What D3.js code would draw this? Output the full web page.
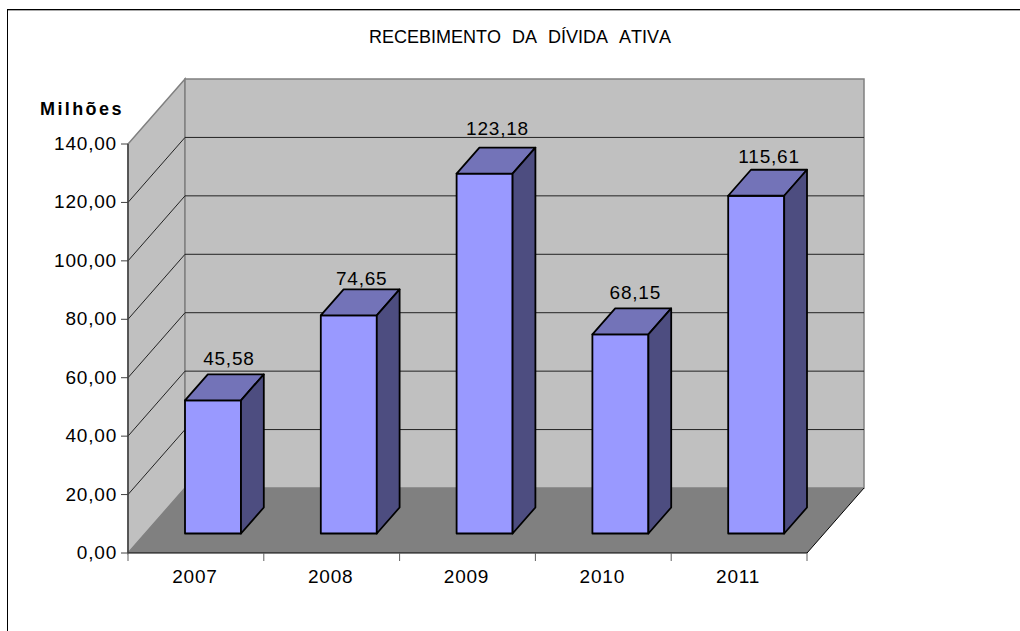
<!DOCTYPE html>
<html>
<head>
<meta charset="utf-8">
<script src="https://cdn.jsdelivr.net/npm/d3@7"></script>
<style>
html, body { margin: 0; padding: 0; background: #fff; }
svg { display: block; }
text { font-family: "Liberation Sans", Arial, sans-serif; fill: #000; }
.num { font-size: 19px; letter-spacing: 0.8px; }
</style>
</head>
<body>
<div id="chart"></div>
<script>
const years = ["2007", "2008", "2009", "2010", "2011"];
const receipts = [45.58, 74.65, 123.18, 68.15, 115.61];
const yTicks = [0, 20, 40, 60, 80, 100, 120, 140];
const chartTitle = "RECEBIMENTO DA DÍVIDA ATIVA";
const unitLabel = "Milhões";

const width = 1020, height = 631;
const fmt = v => v.toFixed(2).replace(".", ",");

const svg = d3.select("#chart").append("svg")
    .attr("width", width)
    .attr("height", height);

// frame runs off the right and bottom of the picture
svg.append("rect")
    .attr("x", 7.5).attr("y", 9.5)
    .attr("width", width + 10).attr("height", height + 10)
    .attr("fill", "#fff").attr("stroke", "#000");
svg.append("line")
    .attr("x1", 8).attr("x2", width)
    .attr("y1", 10.5).attr("y2", 10.5)
    .attr("stroke", "#aaa");

const x = d3.scaleBand().domain(years).range([128, 807]);
const y = d3.scaleLinear().domain([0, 140]).range([553, 144]);
// depth goes from the front plane (0) to the back wall (1)
const depthX = d3.scaleLinear().domain([0, 1]).range([0, 57]);
const depthY = d3.scaleLinear().domain([0, 1]).range([0, -65]);

const px = (xv, d) => xv + depthX(d);
const py = (v, d) => y(v) + depthY(d);
const poly = pts => pts.map(p => p.join(",")).join(" ");

const x0 = x.range()[0], x1 = x.range()[1];

// walls
svg.append("polygon")
    .attr("points", poly([[px(x0, 0), py(0, 0)], [px(x0, 1), py(0, 1)], [px(x0, 1), py(140, 1)], [px(x0, 0), py(140, 0)]]))
    .attr("fill", "#c0c0c0").attr("stroke", "#808080").attr("stroke-width", 1.5);
svg.append("polygon")
    .attr("points", poly([[px(x0, 1), py(0, 1)], [px(x1, 1), py(0, 1)], [px(x1, 1), py(140, 1)], [px(x0, 1), py(140, 1)]]))
    .attr("fill", "#c0c0c0").attr("stroke", "#808080").attr("stroke-width", 1.5);
svg.append("polygon")
    .attr("points", poly([[px(x0, 0), py(0, 0)], [px(x1, 0), py(0, 0)], [px(x1, 1), py(0, 1)], [px(x0, 1), py(0, 1)]]))
    .attr("fill", "#808080");

// gridlines on side and back wall
const gridVals = yTicks.slice(1, -1);
svg.append("g").selectAll("polyline")
    .data(gridVals)
    .enter().append("polyline")
    .attr("fill", "none")
    .attr("stroke", "#222")
    .attr("stroke-width", 1)
    .attr("points", d => poly([[px(x0, 0), py(d, 0)], [px(x0, 1), py(d, 1)], [px(x1, 1), py(d, 1)]]));

// floor front and right edges
svg.append("polyline")
    .attr("fill", "none").attr("stroke", "#000")
    .attr("points", poly([[px(x1, 1), py(0, 1)], [px(x1, 0), py(0, 0)], [px(x0, 0), py(0, 0)]]));

// y axis
svg.append("line")
    .attr("x1", x0).attr("x2", x0)
    .attr("y1", y(0)).attr("y2", y(140))
    .attr("stroke", "#404040").attr("stroke-width", 1.5);
const yAxis = svg.append("g").selectAll("g")
    .data(yTicks)
    .enter().append("g");
yAxis.append("line")
    .attr("x1", x0 - 7).attr("x2", x0)
    .attr("y1", d => y(d)).attr("y2", d => y(d))
    .attr("stroke", "#404040");
yAxis.append("text")
    .attr("class", "num")
    .attr("x", x0 - 11)
    .attr("y", d => y(d) + 6)
    .attr("text-anchor", "end")
    .text(fmt);

// x axis
const tickXs = years.map(d => x(d)).concat([x1]);
svg.append("g").selectAll("line")
    .data(tickXs)
    .enter().append("line")
    .attr("x1", d => d).attr("x2", d => d)
    .attr("y1", y(0)).attr("y2", y(0) + 8)
    .attr("stroke", "#606060");
svg.append("g").selectAll("text")
    .data(years)
    .enter().append("text")
    .attr("class", "num")
    .attr("x", d => x(d) + x.bandwidth() / 2 - 1)
    .attr("y", 583)
    .attr("text-anchor", "middle")
    .text(d => d);

// bars, front sits 0.3 into the depth and back at 0.7
const barW = 56, dFront = 0.3, dBack = 0.7;
const bars = svg.append("g").selectAll("g")
    .data(years.map((d, i) => ({ year: d, value: receipts[i] })))
    .enter().append("g")
    .attr("stroke", "#000")
    .attr("stroke-width", 1.8)
    .attr("stroke-linejoin", "round");
const barLeft = d => x(d.year) + x.bandwidth() / 2 - barW / 2;

bars.append("polygon")
    .attr("fill", "#9999ff")
    .attr("points", d => {
        const l = px(barLeft(d), dFront), r = l + barW;
        return poly([[l, py(0, dFront)], [r, py(0, dFront)], [r, py(d.value, dFront)], [l, py(d.value, dFront)]]);
    });
bars.append("polygon")
    .attr("fill", "#7373b8")
    .attr("points", d => {
        const l = barLeft(d);
        return poly([[px(l, dFront), py(d.value, dFront)], [px(l, dFront) + barW, py(d.value, dFront)],
            [px(l, dBack) + barW, py(d.value, dBack)], [px(l, dBack), py(d.value, dBack)]]);
    });
bars.append("polygon")
    .attr("fill", "#4d4d80")
    .attr("points", d => {
        const l = barLeft(d) + barW;
        return poly([[px(l, dFront), py(0, dFront)], [px(l, dBack), py(0, dBack)],
            [px(l, dBack), py(d.value, dBack)], [px(l, dFront), py(d.value, dFront)]]);
    });

// value labels, the original placed them unevenly so each gets a nudge
const labelNudgeX = [5, 2, 2, 4, 2];
const labelNudgeY = [0, 5, -4, 0, 2];
svg.append("g").selectAll("text")
    .data(receipts)
    .enter().append("text")
    .attr("class", "num")
    .attr("x", (d, i) => x(years[i]) + x.bandwidth() / 2 + 28 + labelNudgeX[i])
    .attr("y", (d, i) => py(d, dBack) - 9 + labelNudgeY[i])
    .attr("text-anchor", "middle")
    .text(fmt);

svg.append("text")
    .attr("x", 40).attr("y", 115)
    .attr("font-size", 18)
    .attr("font-weight", "bold")
    .attr("letter-spacing", 2.4)
    .text(unitLabel);

svg.append("text")
    .attr("x", 369).attr("y", 43)
    .attr("font-size", 18)
    .attr("word-spacing", 6)
    .style("font-kerning", "none")
    .text(chartTitle);
</script>
</body>
</html>
